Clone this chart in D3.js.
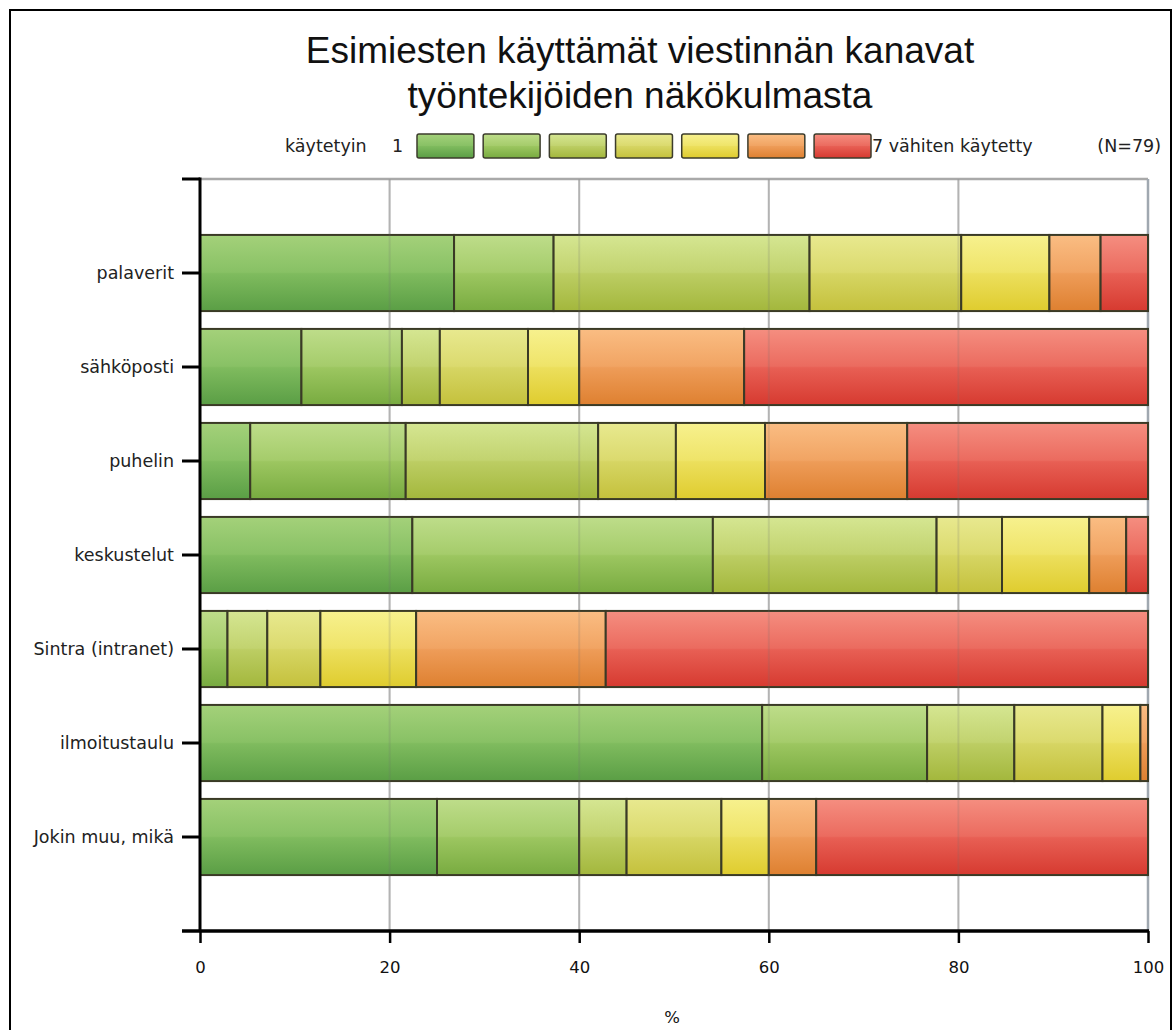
<!DOCTYPE html>
<html>
<head>
<meta charset="utf-8">
<script src="https://cdn.jsdelivr.net/npm/d3@7"></script>
<style>
  body { margin: 0; background: #fff; }
  svg { display: block; }
</style>
</head>
<body>
<svg id="chart" width="1176" height="1030"></svg>
<script>
// Channels, top to bottom
const categories = ["palaverit", "sähköposti", "puhelin", "keskustelut",
                    "Sintra (intranet)", "ilmoitustaulu", "Jokin muu, mikä"];

// Share of answers (%) per rank, 1 = used most ... 7 = used least
const rank1 = [26.8, 10.7,  5.3, 22.4,  0.0, 59.3, 25.0];
const rank2 = [10.5, 10.6, 16.4, 31.7,  2.9, 17.4, 15.0];
const rank3 = [27.0,  4.0, 20.3, 23.6,  4.2,  9.2,  5.0];
const rank4 = [16.0,  9.3,  8.2,  6.9,  5.6,  9.3, 10.0];
const rank5 = [ 9.3,  5.4,  9.4,  9.2, 10.1,  4.0,  5.0];
const rank6 = [ 5.4, 17.4, 15.0,  3.9, 20.0,  0.8,  5.0];
const rank7 = [ 5.0, 42.6, 25.4,  2.3, 57.2,  0.0, 35.0];

const rankKeys = ["1", "2", "3", "4", "5", "6", "7"];
const xTicks = [0, 20, 40, 60, 80, 100];

const titleLines = ["Esimiesten käyttämät viestinnän kanavat", "työntekijöiden näkökulmasta"];
const legendStart = "käytetyin";
const legendFirst = "1";
const legendEnd = "7 vähiten käytetty";
const sampleNote = "(N=79)";
const axisTitle = "%";

// Gradient colours (top, middle, bottom) for ranks 1..7
const colorTop = ["#a4d17a", "#bedd8a", "#d5e692", "#e8e98f", "#f7f18e", "#fabd83", "#f58e80"];
const colorMid = ["#7fbb5e", "#9cc660", "#bccd63", "#d6d563", "#ecdf5c", "#ee9c58", "#e85f54"];
const colorBot = ["#5a9e45", "#78ab40", "#a3b73c", "#c4c13c", "#dfcc2e", "#de8030", "#d63a30"];

const rows = categories.map((c, i) => ({
  cat: c,
  "1": rank1[i], "2": rank2[i], "3": rank3[i], "4": rank4[i],
  "5": rank5[i], "6": rank6[i], "7": rank7[i]
}));

const svg = d3.select("#chart");
const W = 1176, H = 1030;
const labelFont = "DejaVu Sans, Verdana, sans-serif";

// gradients
const defs = svg.append("defs");
rankKeys.forEach((k, i) => {
  const g = defs.append("linearGradient")
    .attr("id", "grad" + k).attr("x1", 0).attr("y1", 0).attr("x2", 0).attr("y2", 1);
  g.append("stop").attr("offset", "0%").attr("stop-color", colorTop[i]);
  g.append("stop").attr("offset", "49%").attr("stop-color", d3.interpolateRgb(colorTop[i], colorMid[i])(0.75));
  g.append("stop").attr("offset", "51%").attr("stop-color", colorMid[i]);
  g.append("stop").attr("offset", "100%").attr("stop-color", colorBot[i]);
});
defs.append("clipPath").attr("id", "legendClip")
  .append("rect").attr("x", 860).attr("y", 120).attr("width", 181).attr("height", 50);

// outer frame
svg.append("rect")
  .attr("x", 10).attr("y", 10).attr("width", 1161).attr("height", H)
  .attr("fill", "#fff").attr("stroke", "#000").attr("stroke-width", 2);

// scales
const x = d3.scaleLinear().domain([0, 100]).range([200, 1148]);
const y = d3.scaleBand().domain(categories)
  .range([226, 884]).paddingInner(0.19).paddingOuter(0.095);
const step = y.step();
const plotTop = y(categories[0]) + y.bandwidth() / 2 - step;
const plotBottom = y(categories[categories.length - 1]) + y.bandwidth() / 2 + step;

// title
svg.append("g").selectAll("text").data(titleLines).join("text")
  .attr("x", 640).attr("y", (d, i) => 63 + i * 45)
  .attr("text-anchor", "middle")
  .attr("font-family", "Liberation Sans, Arial, sans-serif")
  .attr("font-size", 37).attr("fill", "#111")
  .text(d => d);

// legend
const legend = svg.append("g").attr("font-family", labelFont)
  .attr("font-size", 17.5).attr("fill", "#222");
legend.append("text").attr("x", 285).attr("y", 152).text(legendStart);
legend.append("text").attr("x", 392).attr("y", 152).text(legendFirst);
const swX = d3.scaleBand().domain(rankKeys).range([417, 871]).paddingInner(0.14);
legend.selectAll("rect").data(rankKeys).join("rect")
  .attr("x", d => swX(d)).attr("y", 134)
  .attr("width", swX.bandwidth()).attr("height", 24)
  .attr("rx", 2)
  .attr("fill", d => `url(#grad${d})`)
  .attr("stroke", "#3c3c2c").attr("stroke-width", 1.5);
legend.append("text").attr("x", 872).attr("y", 152)
  .attr("clip-path", "url(#legendClip)").text(legendEnd);
legend.append("text").attr("x", 1161).attr("y", 152)
  .attr("text-anchor", "end").text(sampleNote);

// grid lines under the bars
const grid = svg.append("g");
grid.selectAll("line").data(xTicks.filter(t => t > 0 && t < 100)).join("line")
  .attr("x1", d => x(d)).attr("x2", d => x(d))
  .attr("y1", plotTop).attr("y2", plotBottom)
  .attr("stroke", "#c2c2c2").attr("stroke-width", 2);
// plot frame, top and right
svg.append("line").attr("x1", x(0)).attr("x2", x(100)).attr("y1", plotTop).attr("y2", plotTop)
  .attr("stroke", "#a9a9a9").attr("stroke-width", 2.5);
svg.append("line").attr("x1", x(100)).attr("x2", x(100)).attr("y1", plotTop).attr("y2", plotBottom)
  .attr("stroke", "#a0a8b0").attr("stroke-width", 2.5);

// stacked bars
const stacked = d3.stack().keys(rankKeys)(rows);
const bars = svg.append("g");
stacked.forEach(layer => {
  bars.append("g").selectAll("rect")
    .data(layer.filter(d => d[1] - d[0] > 0))
    .join("rect")
    .attr("x", d => x(d[0]))
    .attr("y", d => y(d.data.cat))
    .attr("width", d => x(d[1]) - x(d[0]))
    .attr("height", y.bandwidth())
    .attr("fill", `url(#grad${layer.key})`)
    .attr("stroke", "#3a3a26").attr("stroke-width", 2);
});

// faint grid showing through the bars
svg.append("g").selectAll("line").data(xTicks.filter(t => t > 0 && t < 100)).join("line")
  .attr("x1", d => x(d)).attr("x2", d => x(d))
  .attr("y1", plotTop).attr("y2", plotBottom)
  .attr("stroke", "#707070").attr("stroke-opacity", 0.18).attr("stroke-width", 2);

// y axis
const yAxis = svg.append("g").attr("transform", `translate(${x(0)},0)`)
  .call(d3.axisLeft(y).tickSize(18).tickPadding(8).tickSizeOuter(0));
yAxis.select(".domain").remove();
yAxis.selectAll(".tick line").attr("stroke", "#000").attr("stroke-width", 3);
yAxis.selectAll(".tick text")
  .attr("font-family", labelFont)
  .attr("font-size", 17.5).attr("fill", "#222");
yAxis.append("line").attr("x1", 0).attr("x2", 0).attr("y1", plotTop - 1.5).attr("y2", plotBottom)
  .attr("stroke", "#000").attr("stroke-width", 3);
yAxis.append("line").attr("x1", -18).attr("x2", 0).attr("y1", plotTop).attr("y2", plotTop)
  .attr("stroke", "#000").attr("stroke-width", 3);

// x axis
const xAxis = svg.append("g").attr("transform", `translate(0,${plotBottom})`)
  .call(d3.axisBottom(x).tickValues(xTicks).tickSize(12).tickPadding(18).tickSizeOuter(0));
xAxis.select(".domain").remove();
xAxis.selectAll(".tick line").attr("stroke", "#000").attr("stroke-width", 2.5);
xAxis.selectAll(".tick text")
  .attr("font-family", labelFont)
  .attr("font-size", 16.5).attr("fill", "#111");
xAxis.append("line").attr("x1", x(0) - 18).attr("x2", x(100) + 1).attr("y1", 0).attr("y2", 0)
  .attr("stroke", "#000").attr("stroke-width", 3.5);

svg.append("text").attr("x", 672).attr("y", 1023)
  .attr("text-anchor", "middle")
  .attr("font-family", labelFont)
  .attr("font-size", 16.5).attr("fill", "#111")
  .text(axisTitle);
</script>
</body>
</html>
